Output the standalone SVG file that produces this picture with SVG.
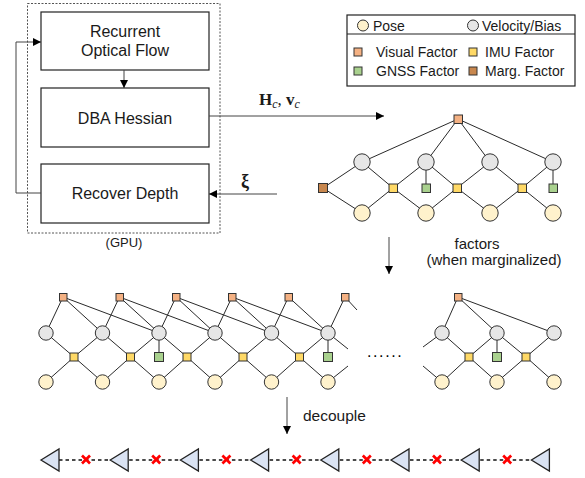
<svg xmlns="http://www.w3.org/2000/svg" width="585" height="478" viewBox="0 0 585 478">
<style>
text{font-family:"Liberation Sans",Arial,sans-serif;fill:#1a1a1a}
.box{fill:#fff;stroke:#222;stroke-width:1.2}
.lbl{font-size:16px;text-anchor:middle}
.leg{font-size:14px}
.e{stroke:#2a2a2a;stroke-width:1;fill:none}
.arr{stroke:#444;stroke-width:1;fill:none;marker-end:url(#ah)}
.pose{fill:#fff2cc;stroke:#333;stroke-width:1}
.vel{fill:#e6e6e6;stroke:#333;stroke-width:1}
.vf{fill:#f4b183;stroke:#333;stroke-width:1}
.imu{fill:#ffd966;stroke:#333;stroke-width:1}
.gnss{fill:#a9d18e;stroke:#333;stroke-width:1}
.marg{fill:#c8874e;stroke:#333;stroke-width:1}
.tri{fill:#dae3f3;stroke:#222;stroke-width:1.3}
.x{stroke:#ff0000;stroke-width:2.7;fill:none}
.dash{stroke:#111;stroke-width:1.3;stroke-dasharray:3.5,3;fill:none}
.math{font-family:"Liberation Serif","Times New Roman",serif;font-weight:bold}
</style>
<defs>
<marker id="ah" viewBox="0 0 10 10" refX="10" refY="5" markerWidth="8" markerHeight="8" markerUnits="userSpaceOnUse" orient="auto">
<path d="M0,0 L10,5 L0,10 z" fill="#000"/>
</marker>
</defs>

<!-- GPU dotted container -->
<g id="gpu">
<rect x="27.5" y="3.5" width="192.5" height="229.5" fill="none" stroke="#555" stroke-width="1" stroke-dasharray="2,1.5"/>
<text x="124" y="247" font-size="13" text-anchor="middle">(GPU)</text>
</g>
<g id="flow">
<rect class="box" x="41" y="12" width="168" height="58"/>
<text class="lbl" x="125" y="37">Recurrent</text>
<text class="lbl" x="125" y="56">Optical Flow</text>
</g>
<g id="dba">
<rect class="box" x="41" y="88" width="168" height="59"/>
<text class="lbl" x="125" y="124">DBA Hessian</text>
</g>
<g id="depth">
<rect class="box" x="41" y="164" width="168" height="59"/>
<text class="lbl" x="125" y="199">Recover Depth</text>
</g>

<!-- legend -->
<g id="legend">
<rect x="347" y="15" width="228" height="71" fill="#fff" stroke="#222" stroke-width="1.2"/>
<line x1="347" y1="34" x2="575" y2="34" stroke="#222" stroke-width="1.2"/>
<circle class="pose" cx="363" cy="25.5" r="5.5"/>
<text class="leg" x="373" y="31">Pose</text>
<circle class="vel" cx="473" cy="25.5" r="5.5"/>
<text class="leg" x="482" y="31">Velocity/Bias</text>
<rect class="vf" x="354" y="48" width="8" height="8"/>
<text class="leg" x="376" y="57">Visual Factor</text>
<rect class="imu" x="469" y="48" width="8" height="8"/>
<text class="leg" x="485" y="57">IMU Factor</text>
<rect class="gnss" x="354" y="67" width="8" height="8"/>
<text class="leg" x="376" y="76">GNSS Factor</text>
<rect class="marg" x="469" y="67" width="8" height="8"/>
<text class="leg" x="485" y="76">Marg. Factor</text>
</g>

<!-- connectors -->
<g id="connectors">
<line class="arr" x1="124" y1="70" x2="124" y2="88"/>
<polyline class="arr" points="41,193 16,193 16,42 41,42"/>
<line class="arr" x1="209" y1="116" x2="384" y2="116"/>
<line class="arr" x1="277" y1="194" x2="209" y2="194"/>
<line class="arr" x1="389" y1="237" x2="389" y2="274"/>
<line class="arr" x1="287" y1="397" x2="287" y2="434"/>

<!-- top-right graph edges -->
<path class="e" d="M458,119L362,162M458,119L426,162M458,119L490,162M458,119L553,162
M323,188L362,162M323,188L362,213
M393,188L362,162M393,188L426,162M393,188L362,213M393,188L426,213
M457,188L426,162M457,188L490,162M457,188L426,213M457,188L490,213
M522,188L490,162M522,188L553,162M522,188L490,213M522,188L553,213
M426,188L426,162M553,188L553,162"/>

<!-- middle graph edges -->
<path class="e" d="M63,297L46,333M63,297L102.5,333M63,297L159,333
M119.5,297L102.5,333M119.5,297L159,333M119.5,297L215,333
M176,297L159,333M176,297L215,333M176,297L271.5,333
M232,297L215,333M232,297L271.5,333M232,297L328,333
M288.5,297L271.5,333M288.5,297L328,333
M345,297L328,333M345,297L357,310
M74,357L46,333M74,357L102.5,333M74,357L46,382M74,357L102.5,382
M130.5,357L102.5,333M130.5,357L159,333M130.5,357L102.5,382M130.5,357L159,382
M187,357L159,333M187,357L215,333M187,357L159,382M187,357L215,382
M243,357L215,333M243,357L271.5,333M243,357L215,382M243,357L271.5,382
M299.5,357L271.5,333M299.5,357L328,333M299.5,357L271.5,382M299.5,357L328,382
M159,357L159,333M328,357L328,333
M328,333L348,349M328,382L348,366"/>

<!-- right cluster edges -->
<path class="e" d="M458,297L442,333M458,297L497,333M458,297L554,333
M469,357L442,333M469,357L497,333M469,357L442,382M469,357L497,382
M526,357L497,333M526,357L554,333M526,357L497,382M526,357L554,382
M497,357L497,333
M442,333L423,347M442,382L423,366"/>

<!-- bottom dashed chain -->
<path class="dash" d="M59,460H110M129.2,460H180.4M199.4,460H250.6M269.6,460H320.8M339.8,460H391M410,460H461.2M480.2,460H531.4"/>
</g>

<!-- labels -->
<g id="labels">
<text class="math" x="259" y="105" font-size="17">H<tspan font-size="12" font-style="italic" font-weight="normal" dy="2.5">c</tspan><tspan dy="-2.5" font-weight="normal">, </tspan>v<tspan font-size="12" font-style="italic" font-weight="normal" dy="2.5">c</tspan></text>
<text class="math" x="241" y="187" font-size="18">ξ</text>
<text x="477" y="249" font-size="15" text-anchor="middle">factors</text>
<text x="494" y="265" font-size="15" text-anchor="middle">(when marginalized)</text>
<text x="303" y="421" font-size="15.5">decouple</text>
<text x="367" y="357" font-size="16" letter-spacing="1.6" style="fill:#000">......</text>
</g>

<!-- top-right graph nodes -->
<g id="tr-vf"><rect class="vf" x="454" y="115" width="8.5" height="8.5"/></g>
<g id="tr-marg"><rect class="marg" x="318.5" y="183.5" width="9" height="9"/></g>
<g id="tr-v1"><circle class="vel" cx="362" cy="162" r="8.2"/></g>
<g id="tr-v2"><circle class="vel" cx="426" cy="162" r="8.2"/></g>
<g id="tr-v3"><circle class="vel" cx="490" cy="162" r="8.2"/></g>
<g id="tr-v4"><circle class="vel" cx="553" cy="162" r="8.2"/></g>
<g id="tr-i1"><rect class="imu" x="389" y="184" width="8.5" height="8.5"/></g>
<g id="tr-i2"><rect class="imu" x="453" y="184" width="8.5" height="8.5"/></g>
<g id="tr-i3"><rect class="imu" x="518" y="184" width="8.5" height="8.5"/></g>
<g id="tr-g1"><rect class="gnss" x="422" y="184" width="8.5" height="8.5"/></g>
<g id="tr-g2"><rect class="gnss" x="549" y="184" width="8.5" height="8.5"/></g>
<g id="tr-p1"><circle class="pose" cx="362" cy="213" r="8.2"/></g>
<g id="tr-p2"><circle class="pose" cx="426" cy="213" r="8.2"/></g>
<g id="tr-p3"><circle class="pose" cx="490" cy="213" r="8.2"/></g>
<g id="tr-p4"><circle class="pose" cx="553" cy="213" r="8.2"/></g>

<!-- middle graph nodes -->
<g id="m-vf0"><rect class="vf" x="59.5" y="293.5" width="7.5" height="7.5"/></g>
<g id="m-vf1"><rect class="vf" x="116" y="293.5" width="7.5" height="7.5"/></g>
<g id="m-vf2"><rect class="vf" x="172.5" y="293.5" width="7.5" height="7.5"/></g>
<g id="m-vf3"><rect class="vf" x="228.5" y="293.5" width="7.5" height="7.5"/></g>
<g id="m-vf4"><rect class="vf" x="285" y="293.5" width="7.5" height="7.5"/></g>
<g id="m-vf5"><rect class="vf" x="341.5" y="293.5" width="7.5" height="7.5"/></g>
<g id="m-v0"><circle class="vel" cx="46" cy="333" r="7.2"/></g>
<g id="m-v1"><circle class="vel" cx="102.5" cy="333" r="7.2"/></g>
<g id="m-v2"><circle class="vel" cx="159" cy="333" r="7.2"/></g>
<g id="m-v3"><circle class="vel" cx="215" cy="333" r="7.2"/></g>
<g id="m-v4"><circle class="vel" cx="271.5" cy="333" r="7.2"/></g>
<g id="m-v5"><circle class="vel" cx="328" cy="333" r="7.2"/></g>
<g id="m-i0"><rect class="imu" x="70" y="353" width="8" height="8"/></g>
<g id="m-i1"><rect class="imu" x="126.5" y="353" width="8" height="8"/></g>
<g id="m-i2"><rect class="imu" x="183" y="353" width="8" height="8"/></g>
<g id="m-i3"><rect class="imu" x="239" y="353" width="8" height="8"/></g>
<g id="m-i4"><rect class="imu" x="295.5" y="353" width="8" height="8"/></g>
<g id="m-g0"><rect class="gnss" x="154.5" y="352.5" width="9" height="9"/></g>
<g id="m-g1"><rect class="gnss" x="323.5" y="352.5" width="9" height="9"/></g>
<g id="m-p0"><circle class="pose" cx="46" cy="382" r="7.2"/></g>
<g id="m-p1"><circle class="pose" cx="102.5" cy="382" r="7.2"/></g>
<g id="m-p2"><circle class="pose" cx="159" cy="382" r="7.2"/></g>
<g id="m-p3"><circle class="pose" cx="215" cy="382" r="7.2"/></g>
<g id="m-p4"><circle class="pose" cx="271.5" cy="382" r="7.2"/></g>
<g id="m-p5"><circle class="pose" cx="328" cy="382" r="7.2"/></g>

<!-- right cluster nodes -->
<g id="r-vf"><rect class="vf" x="454.5" y="293.5" width="7.5" height="7.5"/></g>
<g id="r-v0"><circle class="vel" cx="442" cy="333" r="7.2"/></g>
<g id="r-v1"><circle class="vel" cx="497" cy="333" r="7.2"/></g>
<g id="r-v2"><circle class="vel" cx="554" cy="333" r="7.2"/></g>
<g id="r-i0"><rect class="imu" x="465" y="353" width="8" height="8"/></g>
<g id="r-i1"><rect class="imu" x="522" y="353" width="8" height="8"/></g>
<g id="r-g0"><rect class="gnss" x="492.5" y="352.5" width="9" height="9"/></g>
<g id="r-p0"><circle class="pose" cx="442" cy="382" r="7.2"/></g>
<g id="r-p1"><circle class="pose" cx="497" cy="382" r="7.2"/></g>
<g id="r-p2"><circle class="pose" cx="554" cy="382" r="7.2"/></g>

<!-- bottom decoupled chain -->
<g id="t0"><polygon class="tri" points="41,460 59,449 59,471"/></g>
<g id="t1"><polygon class="tri" points="110.2,460 128.2,449 128.2,471"/></g>
<g id="t2"><polygon class="tri" points="180.4,460 198.4,449 198.4,471"/></g>
<g id="t3"><polygon class="tri" points="250.6,460 268.6,449 268.6,471"/></g>
<g id="t4"><polygon class="tri" points="320.8,460 338.8,449 338.8,471"/></g>
<g id="t5"><polygon class="tri" points="391,460 409,449 409,471"/></g>
<g id="t6"><polygon class="tri" points="461.2,460 479.2,449 479.2,471"/></g>
<g id="t7"><polygon class="tri" points="531.4,460 549.4,449 549.4,471"/></g>
<g id="x0"><path class="x" d="M82,455.5l8,8m0,-8l-8,8"/></g>
<g id="x1"><path class="x" d="M152.2,455.5l8,8m0,-8l-8,8"/></g>
<g id="x2"><path class="x" d="M222.4,455.5l8,8m0,-8l-8,8"/></g>
<g id="x3"><path class="x" d="M292.6,455.5l8,8m0,-8l-8,8"/></g>
<g id="x4"><path class="x" d="M362.8,455.5l8,8m0,-8l-8,8"/></g>
<g id="x5"><path class="x" d="M433,455.5l8,8m0,-8l-8,8"/></g>
<g id="x6"><path class="x" d="M503.2,455.5l8,8m0,-8l-8,8"/></g>
</svg>
